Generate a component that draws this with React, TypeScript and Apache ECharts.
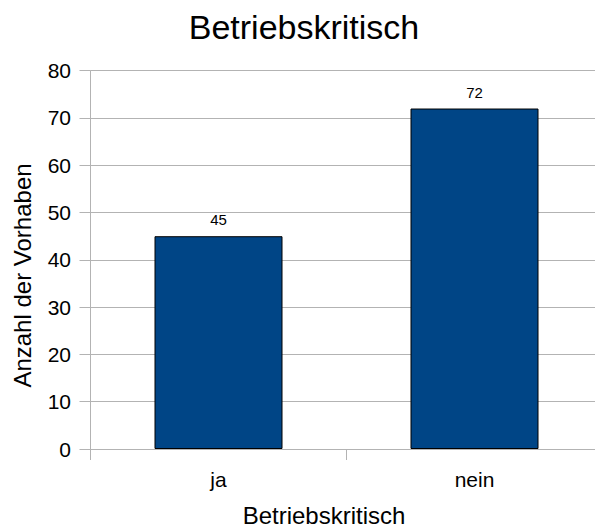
import React, { useEffect, useRef } from "react";
import * as echarts from "echarts";

const categories = ["ja", "nein"];
const values = [45, 72];
const yTicks = { min: 0, max: 80, interval: 10 };
const titleText = "Betriebskritisch";
const xAxisName = "Betriebskritisch";
const yAxisName = "Anzahl der Vorhaben";

const FONT = "'Liberation Sans', Arial, sans-serif";

export default function App() {
  const ref = useRef<HTMLDivElement>(null);
  useEffect(() => {
    if (!ref.current) return;
    const chart = echarts.init(ref.current, null, { renderer: "svg" });
    chart.setOption({
      animation: false,
      backgroundColor: "#ffffff",
      textStyle: { fontFamily: FONT },
      grid: {
        left: 90.5,
        top: 70.7,
        width: 512,
        bottom: 79,
        containLabel: false,
        outerBoundsMode: "none",
      },
      xAxis: {
        type: "category",
        data: categories,
        boundaryGap: true,
        axisLine: { show: true, lineStyle: { color: "#b3b3b3", width: 1 } },
        axisTick: { show: true, alignWithLabel: false, length: 11, lineStyle: { color: "#b3b3b3" } },
        axisLabel: { color: "#000", fontSize: 21, fontFamily: FONT, margin: 20 },
      },
      yAxis: {
        type: "value",
        min: yTicks.min,
        max: yTicks.max,
        interval: yTicks.interval,
        axisLine: { show: true, lineStyle: { color: "#b3b3b3", width: 1 } },
        axisTick: { show: true, length: 11, lineStyle: { color: "#b3b3b3" } },
        axisLabel: { color: "#000", fontSize: 21, fontFamily: FONT, margin: 19.5 },
        splitLine: { show: true, lineStyle: { color: "#b3b3b3", width: 1 } },
      },
      series: [
        {
          type: "bar",
          data: values,
          barWidth: "50%",
          itemStyle: { color: "#004586", borderColor: "#000000", borderWidth: 1 },
          label: {
            show: true,
            position: "top",
            distance: 9,
            color: "#000",
            fontSize: 15,
            fontFamily: FONT,
          },
        },
      ],
      graphic: [
        {
          type: "text",
          x: 304,
          y: 27,
          style: {
            text: titleText,
            font: `34px ${FONT}`,
            fill: "#000",
            align: "center",
            verticalAlign: "middle",
          },
        },
        {
          type: "text",
          x: 324,
          y: 515.5,
          style: {
            text: xAxisName,
            font: `24px ${FONT}`,
            fill: "#000",
            align: "center",
            verticalAlign: "middle",
          },
        },
        {
          type: "text",
          x: 22.5,
          y: 275.5,
          rotation: Math.PI / 2,
          style: {
            text: yAxisName,
            font: `24px ${FONT}`,
            fill: "#000",
            align: "center",
            verticalAlign: "middle",
          },
        },
      ],
    });
    return () => chart.dispose();
  }, []);
  return (
    <div
      ref={ref}
      style={{ position: "fixed", left: 0, top: 0, width: 595, height: 528, background: "#fff" }}
    />
  );
}
